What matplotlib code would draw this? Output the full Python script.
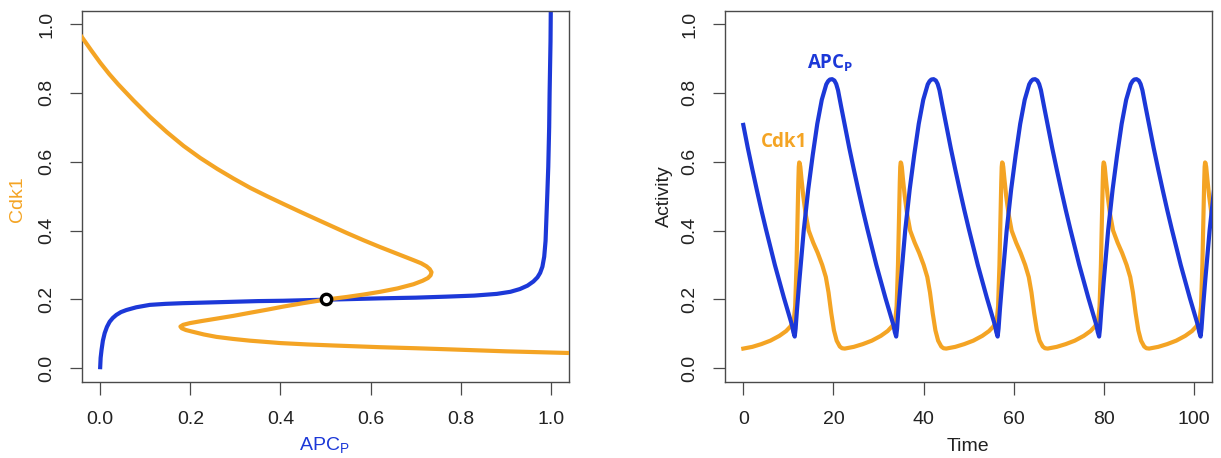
import matplotlib
matplotlib.use("Agg")
import matplotlib.pyplot as plt

plt.rcParams["font.family"] = ["Liberation Sans", "DejaVu Sans"]
plt.rcParams["mathtext.fontset"] = "custom"
plt.rcParams["mathtext.rm"] = "Liberation Sans"
plt.rcParams["mathtext.bf"] = "Open Sans:bold"

BLUE = "#1c38d8"
ORANGE = "#f4a424"
FRAME = "#4a4a4a"

# ---- phase plane: nullclines (APC_P on x, Cdk1 on y) ----
apc_null_x = [0.000, 0.001, 0.003, 0.006, 0.010, 0.015, 0.021, 0.028, 0.036, 0.046,
              0.058, 0.080, 0.110, 0.145, 0.184, 0.240, 0.295, 0.350, 0.406, 0.498,
              0.560, 0.621, 0.700, 0.769, 0.830, 0.880, 0.910, 0.931, 0.948, 0.961,
              0.970, 0.976, 0.981, 0.985, 0.988, 0.990, 0.992, 0.994, 0.996, 0.997,
              0.999, 1.000]
apc_null_y = [0.003, 0.030, 0.053, 0.080, 0.102, 0.120, 0.135, 0.146, 0.155, 0.163,
              0.169, 0.177, 0.184, 0.187, 0.189, 0.191, 0.193, 0.195, 0.196, 0.199,
              0.201, 0.203, 0.205, 0.208, 0.211, 0.216, 0.222, 0.230, 0.240, 0.252,
              0.264, 0.277, 0.295, 0.324, 0.370, 0.440, 0.510, 0.585, 0.700, 0.800,
              0.950, 1.100]

cdk_null_x = [-0.041, -0.020, 0.000, 0.020, 0.040, 0.074, 0.110, 0.148, 0.185, 0.222,
              0.260, 0.296, 0.333, 0.370, 0.407, 0.443, 0.473, 0.510, 0.547, 0.584,
              0.621, 0.658, 0.695, 0.712, 0.724, 0.731, 0.735, 0.733, 0.727, 0.715,
              0.695, 0.660, 0.621, 0.584, 0.547, 0.498, 0.450, 0.406, 0.370, 0.332,
              0.295, 0.258, 0.225, 0.199, 0.184, 0.178, 0.181, 0.190, 0.205, 0.230,
              0.258, 0.295, 0.332, 0.400, 0.460, 0.517, 0.621, 0.700, 0.769, 0.900,
              1.045]
cdk_null_y = [0.963, 0.924, 0.888, 0.855, 0.825, 0.778, 0.731, 0.686, 0.646, 0.611,
              0.579, 0.551, 0.524, 0.500, 0.477, 0.455, 0.437, 0.415, 0.393, 0.372,
              0.352, 0.333, 0.314, 0.305, 0.296, 0.288, 0.279, 0.270, 0.262, 0.254,
              0.244, 0.232, 0.222, 0.214, 0.207, 0.199, 0.189, 0.179, 0.170, 0.161,
              0.152, 0.144, 0.137, 0.131, 0.126, 0.121, 0.116, 0.111, 0.106, 0.098,
              0.091, 0.085, 0.080, 0.073, 0.069, 0.066, 0.061, 0.058, 0.055, 0.049,
              0.044]

fixed_point = (0.5, 0.2)

# ---- time courses ----
apc_t = [0.0, 1.0, 2.0, 3.0, 4.0, 5.0, 6.0, 7.0, 8.0, 9.0, 10.0, 10.8, 11.1, 11.4,
         11.6, 11.9, 12.4, 13.4, 14.4, 15.4, 16.4, 17.4, 18.4, 18.8, 19.2, 19.7,
         20.2, 20.6, 21.0, 21.7, 22.5, 23.5, 24.5, 25.5, 26.5, 27.5, 28.5, 29.5, 30.5, 31.5,
         32.5, 33.3, 33.6, 33.9,
         34.1, 34.4, 34.9, 35.9, 36.9, 37.9, 38.9, 39.9, 40.9, 41.3, 41.7, 42.2,
         42.7, 43.1, 43.5, 44.2, 45.0, 46.0, 47.0, 48.0, 49.0, 50.0, 51.0, 52.0, 53.0, 54.0,
         55.0, 55.8, 56.1, 56.4,
         56.6, 56.9, 57.4, 58.4, 59.4, 60.4, 61.4, 62.4, 63.4, 63.8, 64.2, 64.7,
         65.2, 65.6, 66.0, 66.7, 67.5, 68.5, 69.5, 70.5, 71.5, 72.5, 73.5, 74.5, 75.5, 76.5,
         77.5, 78.3, 78.6, 78.9,
         79.1, 79.4, 79.9, 80.9, 81.9, 82.9, 83.9, 84.9, 85.9, 86.3, 86.7, 87.2,
         87.7, 88.1, 88.5, 89.2, 90.0, 91.0, 92.0, 93.0, 94.0, 95.0, 96.0, 97.0, 98.0, 99.0,
         100.0, 100.8, 101.1, 101.4,
         101.6, 101.9, 102.4, 103.4, 104.4, 105.4]
apc_v = [0.707, 0.640, 0.578, 0.518, 0.460, 0.405, 0.352, 0.300, 0.252, 0.205, 0.160, 0.125, 0.105, 0.092,
         0.115, 0.170, 0.250, 0.400, 0.520, 0.620, 0.710, 0.780, 0.825, 0.834, 0.839, 0.840,
         0.836, 0.826, 0.808, 0.760, 0.707, 0.640, 0.578, 0.518, 0.460, 0.405, 0.352, 0.300, 0.252, 0.205,
         0.160, 0.125, 0.105, 0.092,
         0.115, 0.170, 0.250, 0.400, 0.520, 0.620, 0.710, 0.780, 0.825, 0.834, 0.839, 0.840,
         0.836, 0.826, 0.808, 0.760, 0.707, 0.640, 0.578, 0.518, 0.460, 0.405, 0.352, 0.300, 0.252, 0.205,
         0.160, 0.125, 0.105, 0.092,
         0.115, 0.170, 0.250, 0.400, 0.520, 0.620, 0.710, 0.780, 0.825, 0.834, 0.839, 0.840,
         0.836, 0.826, 0.808, 0.760, 0.707, 0.640, 0.578, 0.518, 0.460, 0.405, 0.352, 0.300, 0.252, 0.205,
         0.160, 0.125, 0.105, 0.092,
         0.115, 0.170, 0.250, 0.400, 0.520, 0.620, 0.710, 0.780, 0.825, 0.834, 0.839, 0.840,
         0.836, 0.826, 0.808, 0.760, 0.707, 0.640, 0.578, 0.518, 0.460, 0.405, 0.352, 0.300, 0.252, 0.205,
         0.160, 0.125, 0.105, 0.092,
         0.115, 0.170, 0.250, 0.400, 0.520, 0.620]

cdk_t = [0.0, 2.0, 4.0, 6.0, 8.0, 9.5, 10.5, 11.2, 11.5, 11.8, 12.0, 12.2, 12.3, 12.4, 12.5,
         12.65, 12.9, 13.3, 13.8, 14.5, 15.5, 16.5, 17.5, 18.3, 18.9, 19.5, 20.1, 20.7, 21.4, 21.9,
         22.5, 24.5, 26.5, 28.5, 30.5, 32.0, 33.0, 33.7, 34.0, 34.3, 34.5, 34.7, 34.8, 34.9, 35.0,
         35.15, 35.4, 35.8, 36.3, 37.0, 38.0, 39.0, 40.0, 40.8, 41.4, 42.0, 42.6, 43.2, 43.9, 44.4,
         45.0, 47.0, 49.0, 51.0, 53.0, 54.5, 55.5, 56.2, 56.5, 56.8, 57.0, 57.2, 57.3, 57.4, 57.5,
         57.65, 57.9, 58.3, 58.8, 59.5, 60.5, 61.5, 62.5, 63.3, 63.9, 64.5, 65.1, 65.7, 66.4, 66.9,
         67.5, 69.5, 71.5, 73.5, 75.5, 77.0, 78.0, 78.7, 79.0, 79.3, 79.5, 79.7, 79.8, 79.9, 80.0,
         80.15, 80.4, 80.8, 81.3, 82.0, 83.0, 84.0, 85.0, 85.8, 86.4, 87.0, 87.6, 88.2, 88.9, 89.4,
         90.0, 92.0, 94.0, 96.0, 98.0, 99.5, 100.5, 101.2, 101.5, 101.8, 102.0, 102.2, 102.3, 102.4, 102.5,
         102.65, 102.9, 103.3, 103.8, 104.5, 105.5]
cdk_v = [0.057, 0.062, 0.070, 0.080, 0.094, 0.108, 0.122, 0.140, 0.180, 0.300, 0.420, 0.540, 0.585, 0.598, 0.596,
         0.585, 0.550, 0.500, 0.450, 0.400, 0.365, 0.335, 0.300, 0.265, 0.220, 0.160, 0.110, 0.080, 0.063, 0.058,
         0.057, 0.062, 0.070, 0.080, 0.094, 0.108, 0.122, 0.140, 0.180, 0.300, 0.420, 0.540, 0.585, 0.598, 0.596,
         0.585, 0.550, 0.500, 0.450, 0.400, 0.365, 0.335, 0.300, 0.265, 0.220, 0.160, 0.110, 0.080, 0.063, 0.058,
         0.057, 0.062, 0.070, 0.080, 0.094, 0.108, 0.122, 0.140, 0.180, 0.300, 0.420, 0.540, 0.585, 0.598, 0.596,
         0.585, 0.550, 0.500, 0.450, 0.400, 0.365, 0.335, 0.300, 0.265, 0.220, 0.160, 0.110, 0.080, 0.063, 0.058,
         0.057, 0.062, 0.070, 0.080, 0.094, 0.108, 0.122, 0.140, 0.180, 0.300, 0.420, 0.540, 0.585, 0.598, 0.596,
         0.585, 0.550, 0.500, 0.450, 0.400, 0.365, 0.335, 0.300, 0.265, 0.220, 0.160, 0.110, 0.080, 0.063, 0.058,
         0.057, 0.062, 0.070, 0.080, 0.094, 0.108, 0.122, 0.140, 0.180, 0.300, 0.420, 0.540, 0.585, 0.598, 0.596,
         0.585, 0.550, 0.500, 0.450, 0.400, 0.365]

phase_ticks = [0.0, 0.2, 0.4, 0.6, 0.8, 1.0]
time_ticks = [0, 20, 40, 60, 80, 100]

W, H = 1221, 458
fig = plt.figure(figsize=(W / 100, H / 100), dpi=100)
ax_l = fig.add_axes([81.7 / W, (H - 382.3) / H, 487.3 / W, 371.6 / H])
ax_r = fig.add_axes([725.0 / W, (H - 382.3) / H, 487.3 / W, 371.6 / H])


def style_axes(ax):
    for sp in ax.spines.values():
        sp.set_color(FRAME)
        sp.set_linewidth(1.0)
    ax.tick_params(axis="both", direction="out", length=9, width=0.9,
                   color=FRAME, labelsize=14, labelcolor="#222222")
    ax.tick_params(axis="x", pad=12)
    ax.tick_params(axis="y", pad=10, labelrotation=90)
    for lab in ax.get_yticklabels():
        lab.set_va("center")


# left: nullclines and their crossing
ax_l.plot(apc_null_x, apc_null_y, color=BLUE, lw=3.0, solid_joinstyle="round", zorder=2)
ax_l.plot(cdk_null_x, cdk_null_y, color=ORANGE, lw=3.0, solid_joinstyle="round", zorder=3)
ax_l.plot([fixed_point[0]], [fixed_point[1]], "o", ms=7.5, mfc="white", mec="black",
          mew=2.4, zorder=4)
ax_l.set_xlim(-0.041, 1.04)
ax_l.set_ylim(-0.041, 1.039)
ax_l.set_xticks(phase_ticks)
ax_l.set_yticks(phase_ticks)
ax_l.set_xticklabels([f"{v:.1f}" for v in phase_ticks])
ax_l.set_yticklabels([f"{v:.1f}" for v in phase_ticks])
style_axes(ax_l)
ax_l.text(0.497, -0.172, r"$\mathrm{APC}_{\mathrm{P}}$", transform=ax_l.transAxes,
          ha="center", va="center", fontsize=14, color=BLUE)
ax_l.text(-0.131, 0.493, "Cdk1", transform=ax_l.transAxes, rotation=90,
          ha="center", va="center", fontsize=14, color=ORANGE)

# right: time courses
ax_r.plot(cdk_t, cdk_v, color=ORANGE, lw=3.0, solid_joinstyle="round", zorder=2)
ax_r.plot(apc_t, apc_v, color=BLUE, lw=3.0, solid_joinstyle="round", zorder=3)
ax_r.set_xlim(-4.06, 104.0)
ax_r.set_ylim(-0.041, 1.039)
ax_r.set_xticks(time_ticks)
ax_r.set_yticks(phase_ticks)
ax_r.set_xticklabels([str(v) for v in time_ticks])
ax_r.set_yticklabels([f"{v:.1f}" for v in phase_ticks])
style_axes(ax_r)
ax_r.text(0.499, -0.172, "Time", transform=ax_r.transAxes,
          ha="center", va="center", fontsize=14, color="#222222")
ax_r.text(-0.125, 0.5, "Activity", transform=ax_r.transAxes, rotation=90,
          ha="center", va="center", fontsize=14, color="#222222")
ax_r.text(19.3, 0.885, r"$\mathbf{APC}_{\mathbf{P}}$", ha="center", va="center",
          fontsize=13.5, color=BLUE)
ax_r.text(9.0, 0.657, "Cdk1", ha="center", va="center", fontsize=13.5,
          fontfamily="Open Sans", fontweight="bold", color=ORANGE)

fig.savefig("out.png", dpi=100)
